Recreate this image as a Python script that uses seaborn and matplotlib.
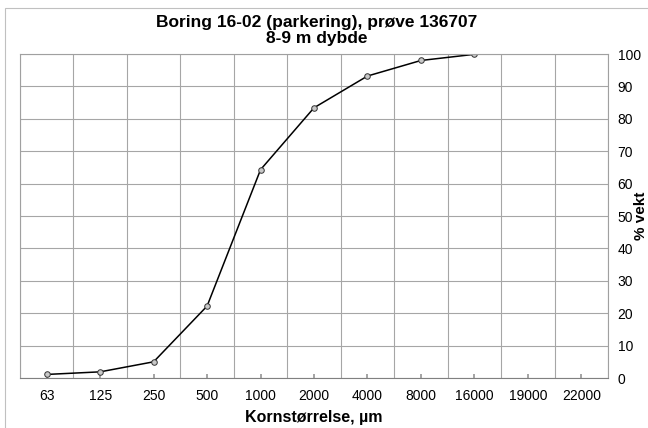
import numpy as np
import pandas as pd
import matplotlib
matplotlib.use("Agg")
import matplotlib.pyplot as plt
import seaborn as sns
from matplotlib.patches import Rectangle

# --- Data ---
categories = ['63', '125', '250', '500', '1000', '2000', '4000', '8000', '16000', '19000', '22000']
sizes_measured = ['63', '125', '250', '500', '1000', '2000', '4000', '8000', '16000']
pct_passing = [1.1, 1.9, 5.0, 22.2, 64.3, 83.4, 93.2, 98.0, 99.9]

df = pd.DataFrame({
    'size': sizes_measured,
    'pos': [categories.index(s) for s in sizes_measured],
    'pct': pct_passing,
})

sns.set_theme(style="white")
plt.rcParams['font.family'] = ['Liberation Sans', 'DejaVu Sans']
plt.rcParams.update({'text.color': 'black', 'axes.labelcolor': 'black',
                     'xtick.color': 'black', 'ytick.color': 'black'})

fig = plt.figure(figsize=(6.48, 4.28), dpi=100)
ax = fig.add_axes([20 / 648, 1 - 378 / 428, 588 / 648, 324 / 428])

sns.lineplot(data=df, x='pos', y='pct', ax=ax, color='black', linewidth=1.1,
             marker='o', markersize=4, markerfacecolor='#c8c8c8',
             markeredgecolor='#333333', markeredgewidth=0.7)

ax.set_xlim(-0.5, len(categories) - 0.5)
ax.set_ylim(0, 100)
ax.set_xticks(range(len(categories)))
ax.set_xticklabels(categories, fontsize=10)
ax.set_xticks(np.arange(len(categories) + 1) - 0.5, minor=True)
ax.set_yticks(range(0, 101, 10))
ax.yaxis.tick_right()
ax.tick_params(axis='y', labelsize=10, length=0, pad=7)
ax.tick_params(axis='x', which='major', direction='in', length=3, color='#999999',
               bottom=True, pad=8)
ax.tick_params(axis='x', which='minor', length=0)
ax.grid(axis='x', which='minor', color='#a6a6a6', linewidth=0.8)
ax.grid(axis='y', which='major', color='#a6a6a6', linewidth=0.8)
for side, sp in ax.spines.items():
    sp.set_color('#a0a0a0')
    sp.set_linewidth(0.8)
ax.spines['bottom'].set_color('#808080')

ax.set_xlabel('Kornstørrelse, µm', fontsize=11.5, fontweight='bold', labelpad=5)
ax.set_ylabel('')

# two-line title, placed by hand like the original
fig.text(317 / 648, 1 - 23 / 428, 'Boring 16-02 (parkering), prøve 136707',
         fontsize=12.5, fontweight='bold', ha='center', va='center')
fig.text(317 / 648, 1 - 39 / 428, '8-9 m dybde',
         fontsize=12.5, fontweight='bold', ha='center', va='center')

fig.text(641 / 648, 1 - 216 / 428, '% vekt', rotation=90, fontsize=11,
         fontweight='bold', ha='center', va='center')

fig.patches.append(Rectangle((5 / 648, -0.01), 1.1, 1 - 8 / 428 + 0.01,
                             transform=fig.transFigure, fill=False,
                             edgecolor='#c0c0c0', linewidth=0.8))

fig.savefig('out.png', dpi=100)
